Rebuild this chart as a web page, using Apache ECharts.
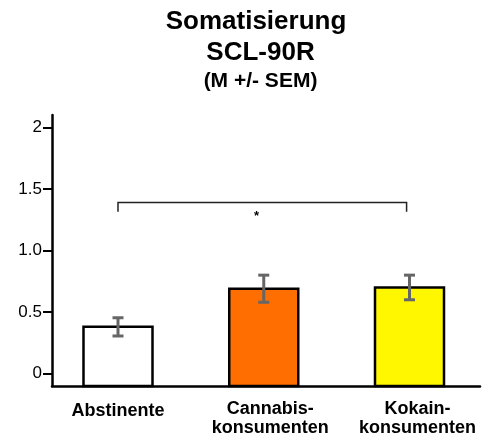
<!DOCTYPE html>
<html><head><meta charset="utf-8">
<script src="https://cdn.jsdelivr.net/npm/echarts@6/dist/echarts.min.js"></script>
<style>html,body{margin:0;padding:0;background:#fff}#c{width:484px;height:439px}</style>
</head><body><div id="c"></div>
<script>
// ---- data ----
const titleLines = ['Somatisierung', 'SCL-90R', '(M +/- SEM)'];
const categories = ['Abstinente', 'Cannabis-\nkonsumenten', 'Kokain-\nkonsumenten'];
const means = [0.38, 0.69, 0.70];
const sems = [0.074, 0.11, 0.10];
const barColors = ['#ffffff', '#ff6e00', '#fff700'];
const yTickValues = [0, 0.5, 1, 1.5, 2];
const yTickLabels = ['0', '0.5', '1.0', '1.5', '2'];
const bracketEnds = [0, 1.98];
const bracketLevel = 1.39;
const bracketDrop = 0.075;
const bracketLabel = '*';
const bracketLabelPos = [0.95, 1.276];
const yMin = -0.1, yMax = 2.1;

// ---- layout ----
const FONT = '"Liberation Sans", Arial, Helvetica, sans-serif';
const pxPerUnit = 145.75;
const xMin = -66 / pxPerUnit;
const xMax = xMin + 428 / pxPerUnit;
const halfBar = 34.5 / pxPerUnit;
const labelShiftPx = [0, 6.5, 8];

const chart = echarts.init(document.getElementById('c'), null, {renderer: 'canvas'});

const findLabel = v => {
  const i = yTickValues.findIndex(t => Math.abs(t - v) < 1e-6);
  return i >= 0 ? yTickLabels[i] : '';
};
const catLabel = v => {
  const name = categories[Math.round(v)];
  return name.indexOf('\n') < 0 ? '{s|' + name + '}' : name.split('\n').map(l => '{m|' + l + '}').join('\n');
};

chart.setOption({
  animation: false,
  backgroundColor: '#fff',
  graphic: [
    {type: 'text', x: 256, y: 22, style: {text: titleLines[0], font: 'bold 26px ' + FONT, fill: '#000', textAlign: 'center', textVerticalAlign: 'middle', align: 'center', verticalAlign: 'middle'}},
    {type: 'text', x: 260.5, y: 53, style: {text: titleLines[1], font: 'bold 26px ' + FONT, fill: '#000', textAlign: 'center', textVerticalAlign: 'middle', align: 'center', verticalAlign: 'middle'}},
    {type: 'text', x: 260.5, y: 81, style: {text: titleLines[2], font: 'bold 21px ' + FONT, fill: '#000', textAlign: 'center', textVerticalAlign: 'middle', align: 'center', verticalAlign: 'middle'}}
  ],
  grid: {left: 52, right: 4, top: 115, bottom: 53, containLabel: false},
  xAxis: {
    type: 'value', min: xMin, max: xMax,
    splitLine: {show: false},
    axisTick: {show: false},
    axisLine: {show: true, onZero: false, lineStyle: {color: '#000', width: 2.5}},
    axisLabel: {
      customValues: categories.map((c, i) => i + labelShiftPx[i] / pxPerUnit),
      formatter: catLabel,
      margin: 14,
      fontSize: 18, fontWeight: 'bold', fontFamily: FONT, color: '#000', lineHeight: 19,
      rich: {
        s: {fontSize: 18, fontWeight: 'bold', fontFamily: FONT, color: '#000', lineHeight: 19, padding: [3, 0, 0, 0]},
        m: {fontSize: 18, fontWeight: 'bold', fontFamily: FONT, color: '#000', lineHeight: 19}
      }
    }
  },
  yAxis: {
    type: 'value', min: yMin, max: yMax,
    splitLine: {show: false},
    axisLine: {show: true, onZero: false, lineStyle: {color: '#000', width: 2.5}},
    axisTick: {show: true, customValues: yTickValues, length: 9, lineStyle: {color: '#000', width: 2}},
    axisLabel: {
      customValues: yTickValues,
      formatter: findLabel,
      margin: 10,
      fontSize: 17, fontFamily: FONT, color: '#000'
    }
  },
  series: [
    {
      type: 'custom', z: 2,
      data: means.map((m, i) => [i, m]),
      renderItem: (params, api) => {
        const i = api.value(0), v = api.value(1);
        const p0 = api.coord([i - halfBar, yMin]);
        const p1 = api.coord([i + halfBar, v]);
        return {
          type: 'rect',
          shape: {x: p0[0], y: p1[1], width: p1[0] - p0[0], height: p0[1] - p1[1]},
          style: {fill: barColors[params.dataIndex], stroke: '#000', lineWidth: 2.5}
        };
      }
    },
    {
      type: 'custom', z: 3,
      data: means.map((m, i) => [i, m - sems[i], m + sems[i]]),
      renderItem: (params, api) => {
        const i = api.value(0);
        const lo = api.coord([i, api.value(1)]);
        const hi = api.coord([i, api.value(2)]);
        const cw = 5.5;
        const st = {stroke: '#666', lineWidth: 3};
        return {
          type: 'group',
          children: [
            {type: 'line', shape: {x1: lo[0], y1: lo[1], x2: hi[0], y2: hi[1]}, style: st},
            {type: 'line', shape: {x1: lo[0] - cw, y1: lo[1], x2: lo[0] + cw, y2: lo[1]}, style: st},
            {type: 'line', shape: {x1: hi[0] - cw, y1: hi[1], x2: hi[0] + cw, y2: hi[1]}, style: st}
          ]
        };
      }
    },
    {
      type: 'custom', z: 4,
      data: [[bracketEnds[0], bracketEnds[1], bracketLevel, bracketLabelPos[0], bracketLabelPos[1]]],
      renderItem: (params, api) => {
        const a = api.coord([api.value(0), api.value(2)]);
        const b = api.coord([api.value(1), api.value(2)]);
        const a2 = api.coord([api.value(0), api.value(2) - bracketDrop]);
        const b2 = api.coord([api.value(1), api.value(2) - bracketDrop]);
        const s = api.coord([api.value(3), api.value(4)]);
        return {
          type: 'group',
          children: [
            {type: 'polyline', shape: {points: [a2, a, b, b2]}, style: {stroke: '#222', lineWidth: 1.5, fill: null}},
            {type: 'text', x: s[0], y: s[1], style: {text: bracketLabel, font: 'bold 13px ' + FONT, fill: '#000', textAlign: 'center', textVerticalAlign: 'middle', align: 'center', verticalAlign: 'middle'}}
          ]
        };
      }
    }
  ]
});
</script>
</body></html>
